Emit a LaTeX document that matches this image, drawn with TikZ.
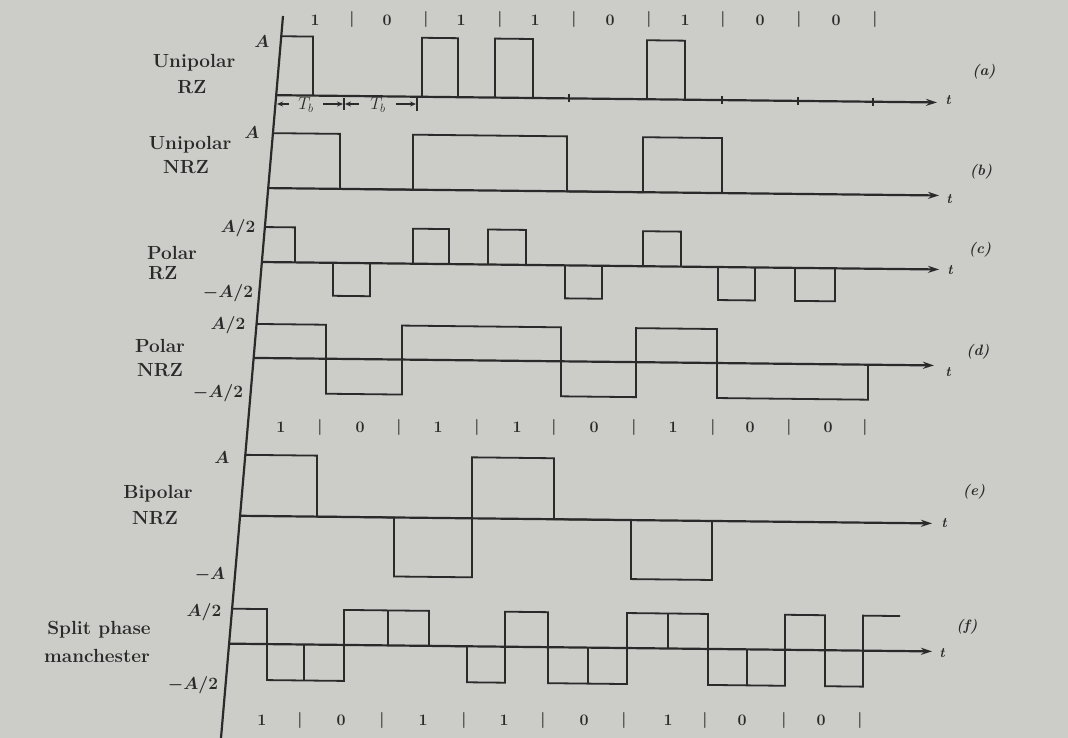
\documentclass[tikz,border=0pt]{standalone}
\usetikzlibrary{arrows.meta}
\definecolor{paper}{RGB}{204,204,201}
\definecolor{ink}{RGB}{42,42,42}
\begin{document}
\begin{tikzpicture}[x=1pt,y=-1pt,
  wave/.style={draw=ink,line width=1.8pt,line join=miter},
  thinwave/.style={draw=ink,line width=1.8pt},
  axisline/.style={draw=ink,line width=2.2pt,-{Stealth[length=11pt,width=7pt]}},
  vaxis/.style={draw=ink,line width=2.2pt},
  tickmark/.style={draw=ink,line width=1.4pt},
  tbarrow/.style={draw=ink,line width=1.2pt},
  lbl/.style={text=ink,font=\fontsize{19}{22}\selectfont\bfseries,inner sep=0pt,align=center},
  lvl/.style={text=ink,font=\fontsize{18}{20}\selectfont\boldmath,inner sep=0pt},
  bit/.style={text=ink,font=\fontsize{16}{18}\selectfont\bfseries,inner sep=0pt},
  tbtext/.style={text=ink,font=\fontsize{17}{18}\selectfont,inner sep=0pt},
  tlab/.style={text=ink,font=\fontsize{14}{16}\selectfont\bfseries\itshape,inner sep=0pt},
  plab/.style={text=ink,font=\fontsize{15}{18}\selectfont\bfseries\itshape,inner sep=0pt}]
\useasboundingbox (0,0) rectangle (1068,738);
\fill[paper] (0,0) rectangle (1068,738);

% vertical axis
\draw[vaxis] (283,16) -- (221,738);

\begin{scope}[shift={(0,-2.86)},yslant=-0.011]
% (a) Unipolar RZ
\draw[axisline] (276.4,95) -- (937,95);
\draw[wave] (281.4,36) -- (313,36) -- (313,95);
\draw[wave] (422,95) |- (458,36) -- (458,95);
\draw[wave] (495,95) |- (533,36) -- (533,95);
\draw[wave] (647,95) |- (685,36) -- (685,95);
\foreach \x in {569,722,798,873} \draw[tickmark] (\x,91) -- (\x,99);

% (b) Unipolar NRZ
\draw[axisline] (268.3,188) -- (939,188);
\draw[wave] (273.1,133) -- (340,133) -- (340,188) -- (413,188) -- (413,133) -- (567,133) -- (567,188)
  -- (643,188) -- (643,133) -- (722,133) -- (722,188);

% (c) Polar RZ
\draw[axisline] (261.9,262) -- (939,262);
\draw[wave] (265,227) -- (295,227) -- (295,262);
\foreach \a/\b in {413/449,488/526,643/681} \draw[wave] (\a,262) |- (\b,227) -- (\b,262);
\foreach \a/\b in {333/370,565/602,718/755,795/835} \draw[wave] (\a,262) |- (\b,295) -- (\b,262);

% (d) Polar NRZ
\draw[axisline] (253.7,358) -- (934,358);
\draw[wave] (256.6,324) -- (326,324) -- (326,393) -- (402,393) -- (402,324) -- (561,324) -- (561,393)
  -- (636,393) -- (636,324) -- (717,324) -- (717,393) -- (868,393) -- (868,358);

% (e) Bipolar NRZ
\draw[axisline] (240,516) -- (932,516);
\draw[wave] (245.3,455) -- (317,455) -- (317,516) -- (394,516) -- (394,575) -- (472,575) -- (472,455)
  -- (554,455) -- (554,516) -- (631,516) -- (631,575) -- (712,575) -- (712,516);

% (f) Split phase Manchester
\draw[axisline] (229,644) -- (932,644);
\draw[wave] (232,609) -- (267,609) -- (267,680) -- (344,680) -- (344,609) -- (429,609) -- (429,644)
  -- (467,644) -- (467,680) -- (505,680) -- (505,609) -- (548,609) -- (548,680) -- (627,680)
  -- (627,609) -- (708,609) -- (708,680) -- (785,680) -- (785,609) -- (825,609) -- (825,680)
  -- (863,680) -- (863,609) -- (900,609);
\draw[thinwave] (304,644) -- (304,680);
\draw[thinwave] (388,644) -- (388,609);
\draw[thinwave] (588,644) -- (588,680);
\draw[thinwave] (668,644) -- (668,609);
\draw[thinwave] (747,644) -- (747,680);
\end{scope}

% T_b markers
\draw[tbarrow,{Stealth[length=6pt,width=5pt]}-] (277,104) -- (289,104);
\node[tbtext] (tb1) at (306,105) {$T_b$};
\draw[tbarrow,-{Stealth[length=6pt,width=5pt]}] (323,104) -- (343,104);
\draw[tbarrow] (344,98) -- (344,110);
\draw[tbarrow,{Stealth[length=6pt,width=5pt]}-] (345,104) -- (359,104);
\node[tbtext] (tb2) at (378,105) {$T_b$};
\draw[tbarrow,-{Stealth[length=6pt,width=5pt]}] (396,104) -- (416,104);
\draw[tbarrow] (417,97) -- (417,111);

% bit rows
\foreach \x/\t [count=\i] in {315/1,352/|,387/0,426/|,461/1,500/|,535/1,574/|,610/0,649/|,685/1,723/|,760/0,799/|,836/0,875/|}
  \node[bit] (ta\i) at (\x,20) {\t};
\foreach \x/\t [count=\i] in {281/1,320/|,360/0,399/|,438/1,477/|,517/1,554/|,594/0,634/|,673/1,713/|,750/0,789/|,828/0,865/|}
  \node[bit] (tm\i) at (\x,427) {\t};
\foreach \x/\t [count=\i] in {262/1,300/|,341/0,382/|,423/1,464/|,504/1,543/|,584/0,624/|,668/1,705/|,742/0,784/|,821/0,860/|}
  \node[bit] (tz\i) at (\x,720) {\t};

% waveform names
\node[lbl] (na1) at (194,63) {Unipolar};
\node[lbl] (na2) at (192,87) {RZ};
\node[lbl] (nb1) at (190,145) {Unipolar};
\node[lbl] (nb2) at (186,167) {NRZ};
\node[lbl] (nc1) at (172,253) {Polar};
\node[lbl] (nc2) at (163,273) {RZ};
\node[lbl] (nd1) at (160,346) {Polar};
\node[lbl] (nd2) at (160,370) {NRZ};
\node[lbl] (ne1) at (158,494) {Bipolar};
\node[lbl] (ne2) at (155,518) {NRZ};
\node[lbl] (nf1) at (99,630) {Split phase};
\node[lbl] (nf2) at (97,656) {manchester};

% level labels
\node[lvl] (la) at (262,42) {$A$};
\node[lvl] (lb) at (252,133) {$A$};
\node[lvl] (lc1) at (238,228) {$A/2$};
\node[lvl] (lc2) at (228,293) {$-A/2$};
\node[lvl] (ld1) at (228,325) {$A/2$};
\node[lvl] (ld2) at (218,393) {$-A/2$};
\node[lvl] (le1) at (222,458) {$A$};
\node[lvl] (le2) at (210,575) {$-A$};
\node[lvl] (lf1) at (204,612) {$A/2$};
\node[lvl] (lf2) at (193,685) {$-A/2$};

% t labels
\node[tlab] (ta) at (948,100) {t};
\node[tlab] (tb) at (949,199) {t};
\node[tlab] (tc) at (950,270) {t};
\node[tlab] (td) at (948,372) {t};
\node[tlab] (te) at (944,523) {t};
\node[tlab] (tf) at (942,653) {t};

% panel labels
\node[plab] (pa) at (984,72) {(a)};
\node[plab] (pb) at (981,172) {(b)};
\node[plab] (pc) at (980,250) {(c)};
\node[plab] (pd) at (978,352) {(d)};
\node[plab] (pe) at (974,492) {(e)};
\node[plab] (pf) at (967,627) {(f)};
\end{tikzpicture}
\end{document}
